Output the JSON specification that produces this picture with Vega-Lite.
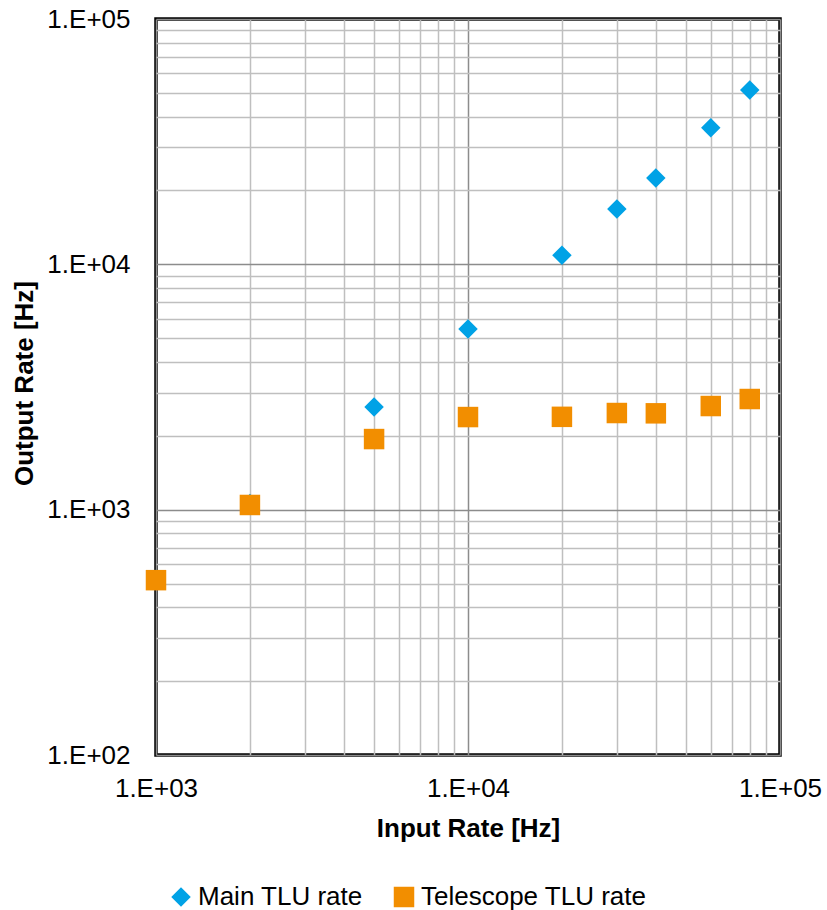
{
  "$schema": "https://vega.github.io/schema/vega-lite/v6.json",
  "width": 624,
  "height": 736,
  "autosize": "none",
  "padding": {"left": 156, "top": 19, "right": 47, "bottom": 155},
  "background": "white",
  "config": {
    "font": "Liberation Sans",
    "view": {"stroke": "black", "strokeWidth": 3.5}
  },
  "data": {
    "values": [
      {"input": 1000, "output": 520, "series": "Main TLU rate"},
      {"input": 2000, "output": 1060, "series": "Main TLU rate"},
      {"input": 5000, "output": 2620, "series": "Main TLU rate"},
      {"input": 10000, "output": 5450, "series": "Main TLU rate"},
      {"input": 20000, "output": 10900, "series": "Main TLU rate"},
      {"input": 30000, "output": 16800, "series": "Main TLU rate"},
      {"input": 40000, "output": 22500, "series": "Main TLU rate"},
      {"input": 60000, "output": 36000, "series": "Main TLU rate"},
      {"input": 80000, "output": 51400, "series": "Main TLU rate"},
      {"input": 1000, "output": 516, "series": "Telescope TLU rate"},
      {"input": 2000, "output": 1045, "series": "Telescope TLU rate"},
      {"input": 5000, "output": 1940, "series": "Telescope TLU rate"},
      {"input": 10000, "output": 2385, "series": "Telescope TLU rate"},
      {"input": 20000, "output": 2390, "series": "Telescope TLU rate"},
      {"input": 30000, "output": 2477, "series": "Telescope TLU rate"},
      {"input": 40000, "output": 2470, "series": "Telescope TLU rate"},
      {"input": 60000, "output": 2645, "series": "Telescope TLU rate"},
      {"input": 80000, "output": 2825, "series": "Telescope TLU rate"}
    ]
  },
  "mark": {"type": "point", "filled": true, "opacity": 1, "strokeWidth": 0},
  "encoding": {
    "x": {
      "field": "input",
      "type": "quantitative",
      "scale": {"type": "log", "domain": [1000, 100000], "nice": false},
      "axis": {
        "title": "Input Rate [Hz]",
        "titleFontSize": 26,
        "titleFontWeight": "bold",
        "titleColor": "black",
        "titleBaseline": "middle",
        "titleY": 73,
        "values": [1000, 2000, 3000, 4000, 5000, 6000, 7000, 8000, 9000, 10000, 20000, 30000, 40000, 50000, 60000, 70000, 80000, 90000, 100000],
        "labelExpr": "indexof([1000,10000,100000], datum.value) >= 0 ? '1.E+0' + round(log(datum.value)/LN10) : ''",
        "labelFontSize": 26,
        "labelColor": "black",
        "labelPadding": 20,
        "labelFlush": false,
        "labelOverlap": false,
        "ticks": false,
        "domain": false,
        "grid": true,
        "gridColor": {"condition": {"test": "indexof([1000,10000,100000], datum.value) >= 0", "value": "#8c8c8c"}, "value": "#bfbfbf"},
        "gridWidth": 1.5
      }
    },
    "y": {
      "field": "output",
      "type": "quantitative",
      "scale": {"type": "log", "domain": [100, 100000], "nice": false},
      "axis": {
        "title": "Output Rate [Hz]",
        "titleFontSize": 26,
        "titleFontWeight": "bold",
        "titleColor": "black",
        "titleBaseline": "middle",
        "titleX": -132,
        "titleY": 364,
        "values": [100, 200, 300, 400, 500, 600, 700, 800, 900, 1000, 2000, 3000, 4000, 5000, 6000, 7000, 8000, 9000, 10000, 20000, 30000, 40000, 50000, 60000, 70000, 80000, 90000, 100000],
        "labelExpr": "indexof([100,1000,10000,100000], datum.value) >= 0 ? '1.E+0' + round(log(datum.value)/LN10) : ''",
        "labelFontSize": 26,
        "labelColor": "black",
        "labelPadding": 26,
        "labelFlush": false,
        "labelOverlap": false,
        "ticks": false,
        "domain": false,
        "grid": true,
        "gridColor": {"condition": {"test": "indexof([100,1000,10000,100000], datum.value) >= 0", "value": "#8c8c8c"}, "value": "#bfbfbf"},
        "gridWidth": 1.5
      }
    },
    "color": {
      "field": "series",
      "type": "nominal",
      "scale": {"domain": ["Main TLU rate", "Telescope TLU rate"], "range": ["#00A2E6", "#F28E00"]},
      "legend": {
        "title": null,
        "orient": "none",
        "legendX": 12,
        "legendY": 865,
        "direction": "horizontal",
        "labelFontSize": 26,
        "labelColor": "black",
        "labelLimit": 400,
        "symbolSize": 270,
        "columnPadding": 28,
        "labelOffset": 4
      }
    },
    "shape": {
      "field": "series",
      "type": "nominal",
      "scale": {"domain": ["Main TLU rate", "Telescope TLU rate"], "range": ["diamond", "square"]},
      "legend": null
    },
    "size": {
      "field": "series",
      "type": "nominal",
      "scale": {"domain": ["Main TLU rate", "Telescope TLU rate"], "range": [380, 420]},
      "legend": null
    },
    "order": {"field": "series", "type": "nominal"}
  }
}
